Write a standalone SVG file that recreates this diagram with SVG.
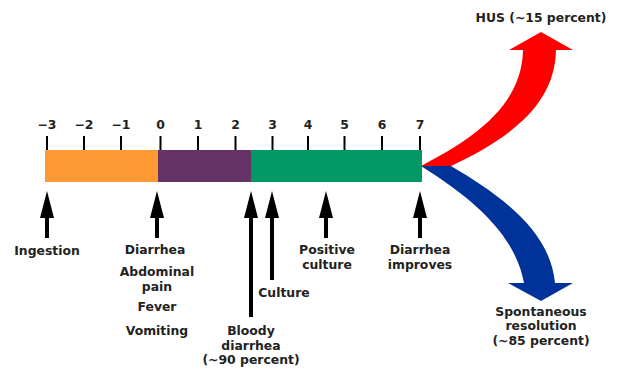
<svg xmlns="http://www.w3.org/2000/svg" width="621" height="369" viewBox="0 0 621 369">
<style>
text{font-family:"DejaVu Sans","Liberation Sans",sans-serif;font-weight:bold;font-size:12.4px;fill:#222;text-anchor:middle}
.tick{stroke:#000;stroke-width:2}
.up{fill:#000}
</style>
<rect width="621" height="369" fill="#fff"/>
<g id="timeline">
<rect x="45" y="150" width="113" height="32" fill="#ff9933"/>
<rect x="158" y="150" width="93" height="32" fill="#663366"/>
<rect x="251" y="150" width="171" height="32" fill="#009966"/>
</g>
<g id="ticks">
<line class="tick" x1="47" y1="136" x2="47" y2="150"/>
<line class="tick" x1="84" y1="136" x2="84" y2="150"/>
<line class="tick" x1="121" y1="136" x2="121" y2="150"/>
<line class="tick" x1="160.5" y1="136" x2="160.5" y2="150"/>
<line class="tick" x1="198" y1="136" x2="198" y2="150"/>
<line class="tick" x1="235.5" y1="136" x2="235.5" y2="150"/>
<line class="tick" x1="272.5" y1="136" x2="272.5" y2="150"/>
<line class="tick" x1="308" y1="136" x2="308" y2="150"/>
<line class="tick" x1="344.5" y1="136" x2="344.5" y2="150"/>
<line class="tick" x1="382" y1="136" x2="382" y2="150"/>
<line class="tick" x1="420" y1="136" x2="420" y2="150"/>
<text x="47" y="129">−3</text>
<text x="84" y="129">−2</text>
<text x="121" y="129">−1</text>
<text x="160.5" y="129">0</text>
<text x="198" y="129">1</text>
<text x="235.5" y="129">2</text>
<text x="272.5" y="129">3</text>
<text x="308" y="129">4</text>
<text x="344.5" y="129">5</text>
<text x="382" y="129">6</text>
<text x="420" y="129">7</text>
</g>
<g id="connectors">
<path class="up" d="M47,191 L54,218 L49,218 L49,238 L45,238 L45,218 L40,218 Z"/>
<path class="up" d="M157,191 L164,218 L159,218 L159,238 L155,238 L155,218 L150,218 Z"/>
<path class="up" d="M251,191 L258,218 L253,218 L253,317 L249,317 L249,218 L244,218 Z"/>
<path class="up" d="M272,191 L279,218 L274,218 L274,280 L270,280 L270,218 L265,218 Z"/>
<path class="up" d="M326,191 L333,218 L328,218 L328,238 L324,238 L324,218 L319,218 Z"/>
<path class="up" d="M420,191 L427,218 L422,218 L422,238 L418,238 L418,218 L413,218 Z"/>
</g>
<g id="hus-arrow">
<path fill="#ff0000" d="M421,166 C475,138 522,105 523,50 L509,50 L541,32 L573,50 L556,50 C555,105 510,138 451,166 Z"/>
</g>
<g id="resolution-arrow">
<path fill="#003399" d="M421,166 L451,166 C500,195 550,230 555,283 L573,283 L541,301 L508,283 L524,283 C515,235 475,200 421,166 Z"/>
</g>
<g id="labels">
<text x="47" y="255">Ingestion</text>
<text x="155" y="254">Diarrhea</text>
<text x="157" y="276">Abdominal</text>
<text x="157" y="291">pain</text>
<text x="157" y="311">Fever</text>
<text x="157" y="335">Vomiting</text>
<text x="284" y="297">Culture</text>
<text x="251" y="335">Bloody</text>
<text x="251" y="349.5">diarrhea</text>
<text x="251" y="364">(~90 percent)</text>
<text x="327" y="254">Positive</text>
<text x="327" y="268.5">culture</text>
<text x="420" y="254">Diarrhea</text>
<text x="420" y="268.5">improves</text>
<text x="541" y="22">HUS (~15 percent)</text>
<text x="541" y="316">Spontaneous</text>
<text x="541" y="330">resolution</text>
<text x="541" y="344.5">(~85 percent)</text>
</g>
</svg>
